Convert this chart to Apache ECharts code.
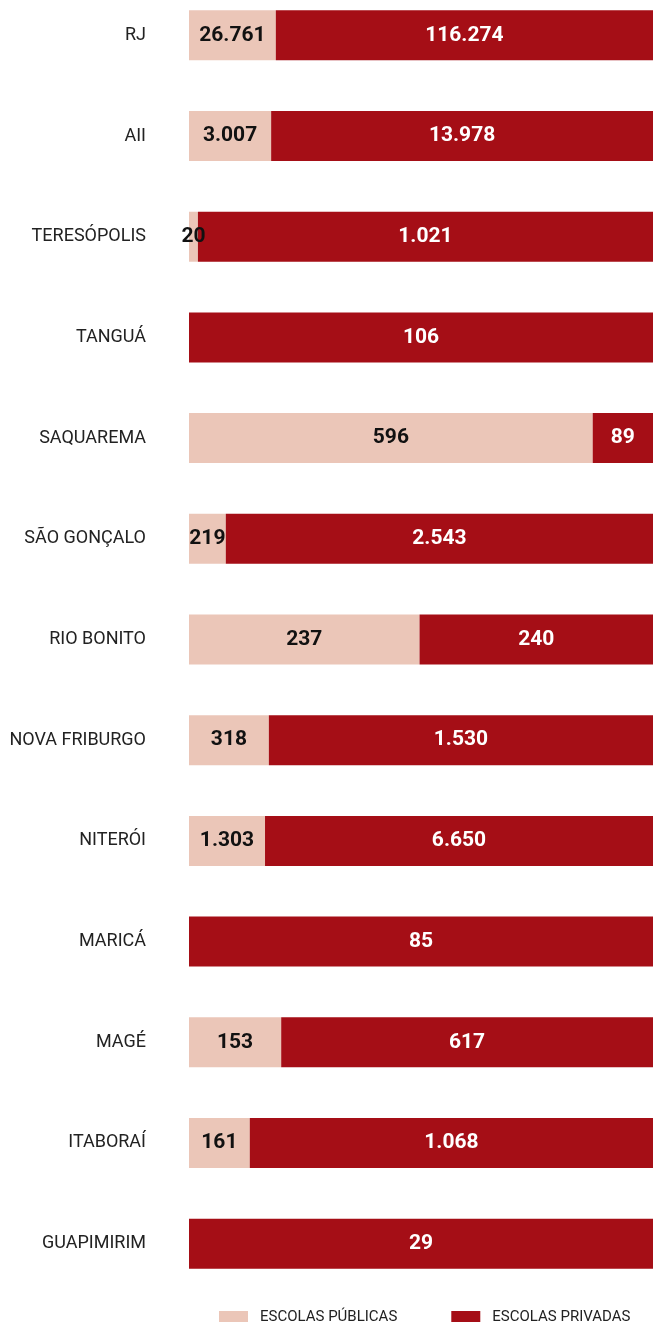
<!DOCTYPE html>
<html>
<head>
<meta charset="utf-8">
<script src="https://cdn.jsdelivr.net/npm/echarts@6/dist/echarts.min.js"></script>
<style>
  html, body { margin: 0; padding: 0; background: #fff; }
  #chart { width: 653px; height: 1322px; }
</style>
</head>
<body>
<div id="chart"></div>
<script>
var cidades = ['RJ', 'AII', 'TERESÓPOLIS', 'TANGUÁ', 'SAQUAREMA', 'SÃO GONÇALO', 'RIO BONITO',
  'NOVA FRIBURGO', 'NITERÓI', 'MARICÁ', 'MAGÉ', 'ITABORAÍ', 'GUAPIMIRIM'];
var publicas = [26761, 3007, 20, 0, 596, 219, 237, 318, 1303, 0, 153, 161, 0];
var privadas = [116274, 13978, 1021, 106, 89, 2543, 240, 1530, 6650, 85, 617, 1068, 29];

var fonte = 'Roboto, sans-serif';

// formata com ponto de milhar
function milhar(n) {
  return String(n).replace(/\B(?=(\d{3})+(?!\d))/g, '.');
}

// converte para percentual de cada linha
function perc(arr) {
  return arr.map(function (v, i) {
    var tot = publicas[i] + privadas[i];
    return { value: v / tot, raw: v };
  });
}

var myChart = echarts.init(document.getElementById('chart'));
var option = {
  animation: false,
  legend: {
    top: 1305,
    left: 214,
    itemWidth: 29,
    itemHeight: 13,
    itemGap: 54,
    icon: 'rect',
    textStyle: { fontFamily: fonte, fontSize: 15, color: '#222', padding: [0, 0, 0, 7] },
    data: ['ESCOLAS PÚBLICAS', 'ESCOLAS PRIVADAS']
  },
  grid: { left: 189, right: 0, top: -15, height: 1309, outerBoundsMode: 'none' },
  xAxis: {
    type: 'value', min: 0, max: 1, show: false
  },
  yAxis: {
    type: 'category',
    inverse: true,
    data: cidades,
    axisLine: { show: false },
    axisTick: { show: false },
    axisLabel: { margin: 43, fontSize: 18, color: '#222', fontFamily: fonte }
  },
  series: [
    {
      name: 'ESCOLAS PÚBLICAS', type: 'bar', stack: 'total', barWidth: 50,
      itemStyle: { color: '#EBC6B8' },
      label: {
        show: true, position: 'inside', color: '#111', fontSize: 21, fontWeight: 'bold',
        fontFamily: fonte,
        formatter: function (p) { return p.data.raw ? milhar(p.data.raw) : ''; }
      },
      data: perc(publicas)
    },
    {
      name: 'ESCOLAS PRIVADAS', type: 'bar', stack: 'total', barWidth: 50,
      itemStyle: { color: '#A50E16' },
      label: {
        show: true, position: 'inside', color: '#fff', fontSize: 21, fontWeight: 'bold',
        fontFamily: fonte,
        formatter: function (p) { return p.data.raw ? milhar(p.data.raw) : ''; }
      },
      data: perc(privadas)
    }
  ]
};
myChart.setOption(option);
</script>
</body>
</html>
